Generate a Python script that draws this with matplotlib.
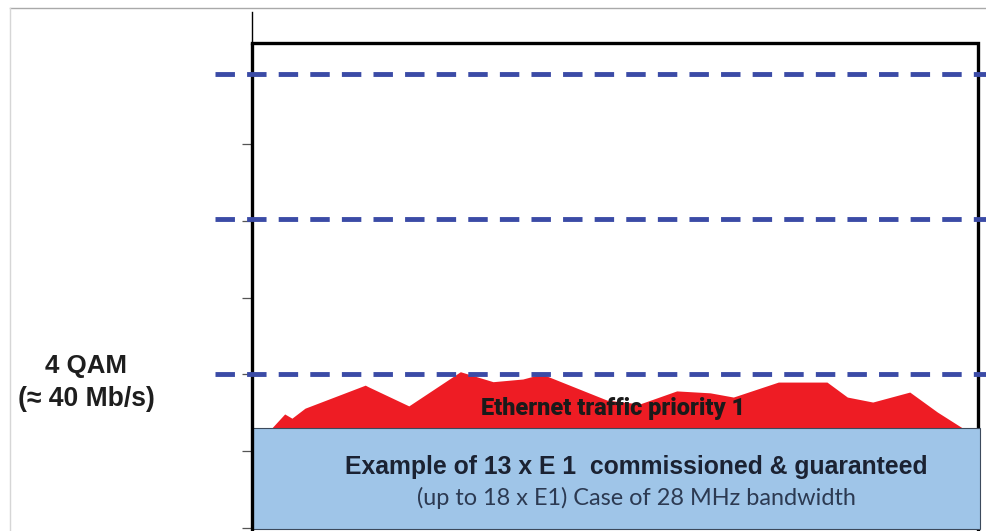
import matplotlib
matplotlib.use("Agg")
import matplotlib.pyplot as plt
from matplotlib.patches import Rectangle
from matplotlib.lines import Line2D

# ---------------- data ----------------
# capacity axis in Mb/s, time axis in arbitrary units 0..100
tick_values = [0, 20, 40, 60, 80, 100]
modulation_levels = [40.0, 80.5, 118.3]          # dashed capacity thresholds
modulation_label = "4 QAM\n(\u2248 40 Mb/s)"
e1_count = 13
e1_rate = 2.0                                    # Mb/s per E1
guaranteed_capacity = e1_count * e1_rate         # 26 Mb/s (blue band)
traffic_x = [2.7, 4.5, 5.5, 7.3, 15.6, 16.0, 21.6, 28.7, 33.2, 37.3, 39.9,
             48.9, 53.4, 58.5, 63.1, 66.3, 72.5, 79.2, 82.0, 85.5, 90.6,
             94.4, 97.9]
traffic_y = [26.0, 29.7, 28.6, 31.2, 37.2, 36.8, 31.8, 40.7, 38.1, 38.8, 40.1,
             33.3, 32.3, 35.7, 35.2, 34.1, 38.0, 38.0, 34.1, 32.8, 35.4,
             30.2, 26.0]
box_top = 126.3
traffic_label = "Ethernet traffic priority 1"
band_title = "Example of 13 x E 1  commissioned & guaranteed"
band_sub = "(up to 18 x E1) Case of 28 MHz bandwidth"

# ---------------- figure ----------------
W, H = 987, 531
fig = plt.figure(figsize=(W / 100, H / 100), dpi=100)
fig.patch.set_facecolor("white")

ax_left, ax_right = 252, 978
ax_top, ax_bottom = 12, 531
ax = fig.add_axes([ax_left / W, 1 - ax_bottom / H,
                   (ax_right - ax_left) / W, (ax_bottom - ax_top) / H])
px_per_mb = 3.84
zero_px = 528
ax.set_xlim(0, 100)
ax.set_ylim((zero_px - ax_bottom) / px_per_mb, (zero_px - ax_top) / px_per_mb)
ax.set_facecolor("white")
for s in ["top", "right", "bottom"]:
    ax.spines[s].set_visible(False)
ax.spines["left"].set_linewidth(1.0)
ax.spines["left"].set_color("black")
ax.set_xticks([])
ax.set_yticks(tick_values)
ax.set_yticklabels([])
ax.tick_params(axis="y", length=7, width=0.9, color="#555555", direction="out")

y0 = ax.get_ylim()[0]

# traffic (red), sitting on top of the guaranteed band
ax.fill_between(traffic_x, guaranteed_capacity, traffic_y, color="#EE1C24",
                lw=0, zorder=1)

# box: top and right border
ax.plot([0, 100, 100], [box_top, box_top, y0], color="black", lw=2.4,
        clip_on=False, zorder=2, solid_joinstyle="miter")

# guaranteed E1 band
ax.add_patch(Rectangle((0, -0.26), 100.3, guaranteed_capacity + 0.26,
                       facecolor="#9FC5E8", edgecolor="#3c4a5c", lw=0.8,
                       zorder=3, clip_on=False))

# left thick border
ax.plot([0, 0], [y0, box_top], color="black", lw=2.4, clip_on=False,
        zorder=4, solid_capstyle="butt")

# modulation thresholds
for lvl in modulation_levels:
    ax.plot([-5.1, 101.3], [lvl, lvl], color="#3B4BA6", lw=3.5,
            ls=(0, (4.0, 2.5)), dash_capstyle="butt", clip_on=False, zorder=5)

# ---------------- frame ----------------
fig.add_artist(Line2D([10 / W, 1], [1 - 8 / H, 1 - 8 / H],
                      color="#a9a9a9", lw=1.0))
fig.add_artist(Line2D([10.5 / W, 10.5 / W], [0, 1 - 8 / H],
                      color="#d6d6d6", lw=1.0))

# ---------------- texts ----------------
renderer = fig.canvas.get_renderer()


def fit(t, width_px):
    bb = t.get_window_extent(renderer)
    t.set_fontsize(t.get_fontsize() * width_px / bb.width)


def ftext(x, y, s, width_px, **kw):
    t = fig.text(x / W, 1 - y / H, s, ha="center", va="center", **kw)
    fit(t, width_px)
    return t


l1, l2 = modulation_label.split("\n")
ftext(86, 366, l1, 82, fontweight="bold", color="#1e1e1e",
      family="Liberation Sans")
ftext(86.5, 399, l2, 137, fontweight="bold", color="#1e1e1e",
      family="Liberation Sans")
ftext(613, 408, traffic_label, 264, fontweight="heavy", color="#1a1a1a",
      family="Roboto", zorder=10)
ftext(636, 467, band_title, 585, fontweight="bold", color="#1b2232",
      family="Liberation Sans", zorder=10)
ftext(636.5, 498, band_sub, 441, color="#2c3a52", family="Lato", zorder=10)

fig.savefig("out.png", dpi=100)
